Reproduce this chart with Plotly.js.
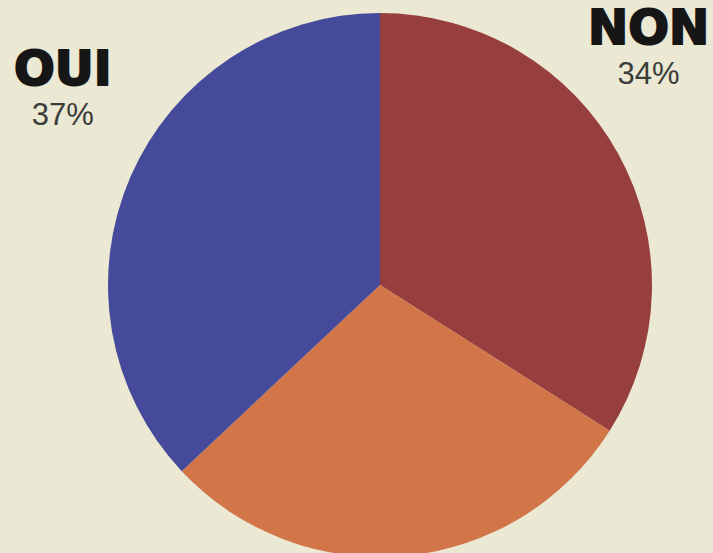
<!DOCTYPE html>
<html>
<head>
<meta charset="utf-8">
<script src="https://cdn.plot.ly/plotly-3.0.1.min.js"></script>
<style>
  html, body { margin: 0; padding: 0; overflow: hidden; background: #ebe8d3; }
  #chart { width: 713px; height: 563px; }
</style>
</head>
<body>
<div id="chart"></div>
<script>
// Data (clockwise from 12 o'clock)
const categories = ["NON", "Sans opinion", "OUI"];
const values = [34, 29, 37];
const shownLabels = ["OUI", "NON"];
const shownPercents = ["37%", "34%"];

const W = 713, H = 563;
const px = x => x / W;
const py = y => 1 - y / H;

const colors = ["#973f3f", "#d27549", "#464a9b"];

const trace = {
  type: "pie",
  labels: categories,
  values: values,
  sort: false,
  direction: "clockwise",
  rotation: 0,
  textinfo: "none",
  hoverinfo: "label+percent",
  marker: { colors: colors, line: { width: 0 } },
  domain: { x: [px(108), px(652)], y: [py(557), py(13)] },
  showlegend: false
};

const blockPos = [ { x: 63, y: 86 }, { x: 648, y: 45 } ];

const annotations = shownLabels.map((t, i) => ({
  text: '<span style="font-family:DejaVu Sans;font-weight:bold;font-size:48px;fill:#161616;stroke:#161616;stroke-width:2px">' + t +
        '</span><br><span style="font-size:31px;fill:#3c3c3a">' + shownPercents[i] + '</span>',
  xref: "paper", yref: "paper",
  x: px(blockPos[i].x), y: py(blockPos[i].y),
  xanchor: "center", yanchor: "middle", align: "center", showarrow: false,
  font: { family: "Liberation Sans", size: 31, color: "#3c3c3a" }
}));

const layout = {
  width: W, height: H,
  margin: { l: 0, r: 0, t: 0, b: 0 },
  paper_bgcolor: "#ebe8d3",
  plot_bgcolor: "#ebe8d3",
  annotations: annotations,
  showlegend: false
};

Plotly.newPlot("chart", [trace], layout, { displayModeBar: false, staticPlot: true });
</script>
</body>
</html>
